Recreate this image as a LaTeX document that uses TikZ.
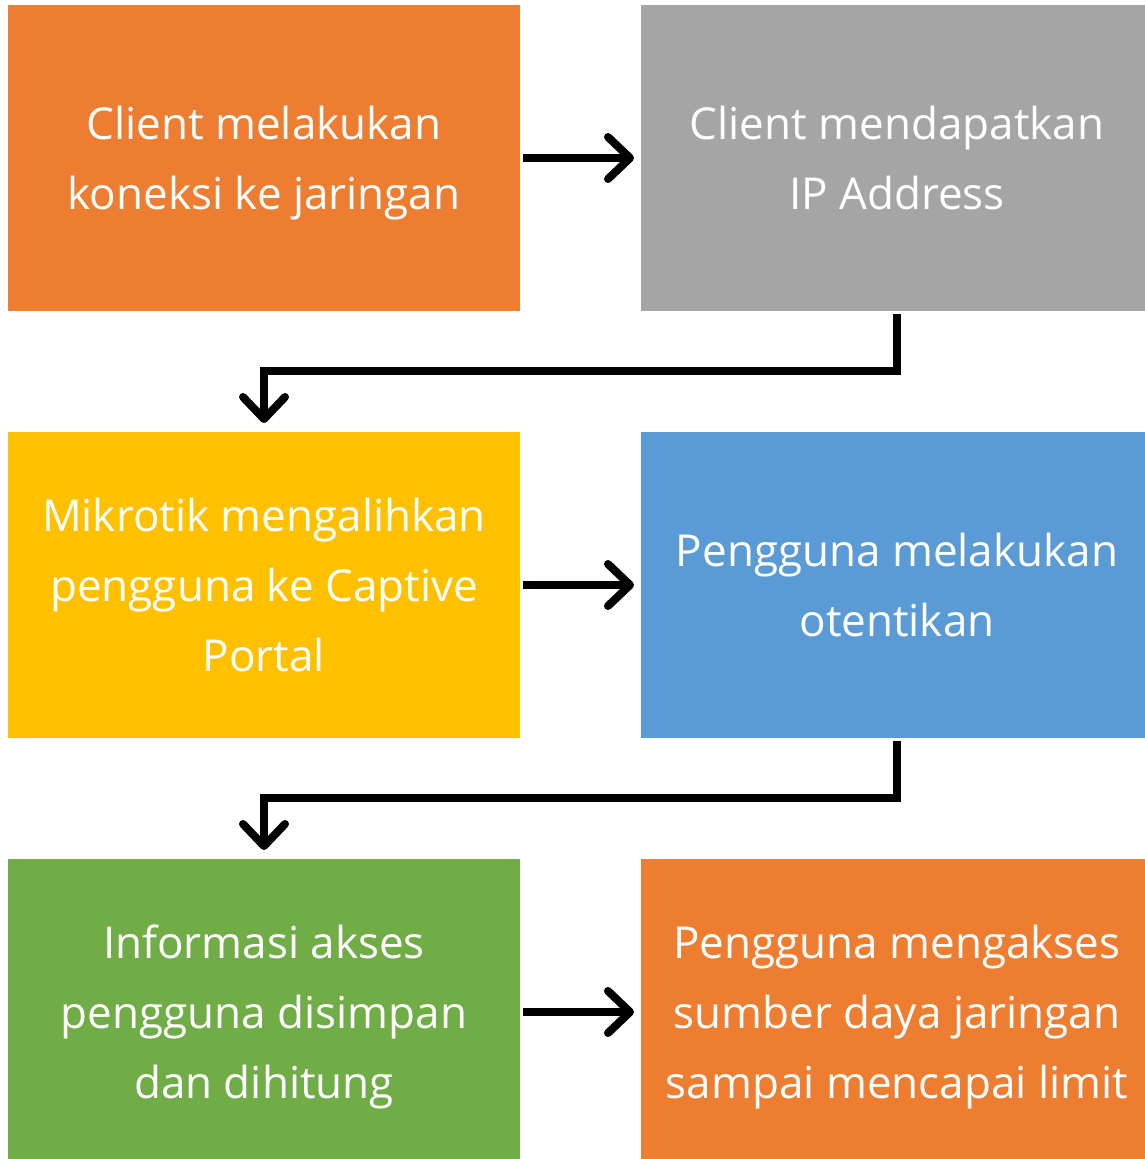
\documentclass[tikz,border=0pt]{standalone}
\usepackage{fontspec}
\setmainfont{Open Sans}
\usetikzlibrary{arrows.meta}
\definecolor{cOrange}{HTML}{ED7D31}
\definecolor{cGray}{HTML}{A5A5A5}
\definecolor{cYellow}{HTML}{FFC000}
\definecolor{cBlue}{HTML}{5B9BD5}
\definecolor{cGreen}{HTML}{70AD47}
\newcommand{\boxline}[1]{#1\rule[-19pt]{0pt}{70pt}}
\begin{document}
\begin{tikzpicture}[x=1pt,y=-1pt,
  box/.style={minimum width=512pt, minimum height=306pt, inner sep=0pt, outer sep=0pt,
    text=white, align=center, font=\fontsize{44}{70}\selectfont, anchor=north west},
  conn/.style={line width=8pt, -{Straight Barb[length=22pt,width=42pt,round]}}]
\useasboundingbox[fill=white] (0,0) rectangle (1145,1159);
\begin{scope}
\clip (0,0) rectangle (1145,1159);
\node[box, fill=cOrange] (b1) at (8,5) {\boxline{Client melakukan}\\\boxline{koneksi ke jaringan}};
\node[box, fill=cGray] (b2) at (641,5) {\boxline{Client mendapatkan}\\\boxline{IP Address}};
\node[box, fill=cYellow] (b3) at (8,432) {\boxline{Mikrotik mengalihkan}\\\boxline{pengguna ke Captive}\\\boxline{Portal}};
\node[box, fill=cBlue] (b4) at (641,432) {\boxline{Pengguna melakukan}\\\boxline{otentikan}};
\node[box, fill=cGreen] (b5) at (8,859) {\boxline{Informasi akses}\\\boxline{pengguna disimpan}\\\boxline{dan dihitung}};
\node[box, fill=cOrange] (b6) at (641,859) {\boxline{Pengguna mengakses}\\\boxline{sumber daya jaringan}\\\boxline{sampai mencapai limit}};
\end{scope}
\draw[conn, shorten <=3pt, shorten >=7pt] (b1.east) -- (b2.west);
\draw[conn, shorten <=3pt, shorten >=7pt] (b3.east) -- (b4.west);
\draw[conn, shorten <=3pt, shorten >=7pt] (b5.east) -- (b6.west);
\draw[conn, shorten <=3pt, shorten >=9pt] (b2.south) -- ++(0,60) -| (b3.north);
\draw[conn, shorten <=3pt, shorten >=9pt] (b4.south) -- ++(0,60) -| (b5.north);
\end{tikzpicture}
\end{document}
